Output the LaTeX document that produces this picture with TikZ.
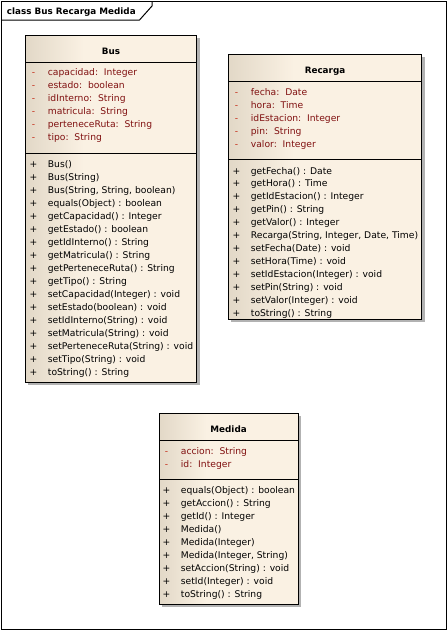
\documentclass[tikz,border=0pt]{standalone}
\usepackage{fontspec}
\setmainfont{DejaVu Sans}
\usetikzlibrary{shadows}
\definecolor{tanL}{RGB}{226,216,199}
\definecolor{tanR}{RGB}{250,241,227}
\definecolor{attrc}{RGB}{128,16,16}
\definecolor{dashc}{RGB}{196,44,24}
\definecolor{shadowc}{RGB}{178,178,178}
\pgfdeclarehorizontalshading{boxshade}{100bp}{color(0bp)=(tanL); color(25bp)=(tanL); color(42bp)=(tanR); color(100bp)=(tanR)}
\tikzset{
  frame/.style={draw=black, line width=1pt},
  classbox/.style={draw=black, line width=1pt, shading=boxshade, anchor=north west,
    inner sep=0pt, outer sep=0pt,
    drop shadow={shadow xshift=3pt, shadow yshift=-3pt, fill=shadowc, opacity=1}},
  divider/.style={draw=black, line width=1pt},
  rowfont/.style={inner sep=0pt, font=\fontsize{9.2}{11}\selectfont},
  attrrow/.style={rowfont, anchor=base west, text=attrc},
  symattrrow/.style={rowfont, anchor=base, text=dashc},
  methrow/.style={rowfont, anchor=base west, text=black},
  symmethrow/.style={rowfont, anchor=base, text=black},
  ctitle/.style={inner sep=0pt, anchor=base, font=\fontsize{8.8}{11}\selectfont\bfseries},
  frametitle/.style={inner sep=0pt, anchor=base west, font=\fontsize{8.8}{11}\selectfont\bfseries},
}
\newcommand\umlrows[7]{%
  \foreach \t [count=\i] in {#7}{%
    \node[#3, name=#1\i] at (#4,{#5+#6*(\i-1)}) {\t};
    \node[sym#3, name=#1s\i] at ({#4-14.2},{#5+#6*(\i-1)}) {#2};
  }%
}
\begin{document}
\begin{tikzpicture}[x=1pt,y=-1pt]
\useasboundingbox (0,0) rectangle (447,630);
% frame
\draw[frame] (1,1) rectangle (446,629);
\draw[frame] (1,20) -- (139.5,20) -- (152,6) -- (152,1);
\node[frametitle] (ftitle) at (6.7,14) {class Bus Recarga Medida};

% Bus
\node[classbox, minimum width=171.4pt, minimum height=347pt] (bus) at (25.3,35) {};
\draw[divider] (25.3,62.3) -- (196.7,62.3);
\draw[divider] (25.3,153.3) -- (196.7,153.3);
\node[ctitle] (bustitle) at (111,54) {Bus};
\umlrows{busa}{-}{attrrow}{47.7}{75.7}{13}{{capacidad:\ \ Integer},{estado:\ \ boolean},{idInterno:\ \ String},{matricula:\ \ String},{perteneceRuta:\ \ String},{tipo:\ \ String}}
\umlrows{busm}{+}{methrow}{47.7}{167.3}{13}{{Bus()},{Bus(String)},{Bus(String, String, boolean)},{equals(Object) : boolean},{getCapacidad() : Integer},{getEstado() : boolean},{getIdInterno() : String},{getMatricula() : String},{getPerteneceRuta() : String},{getTipo() : String},{setCapacidad(Integer) : void},{setEstado(boolean) : void},{setIdInterno(String) : void},{setMatricula(String) : void},{setPerteneceRuta(String) : void},{setTipo(String) : void},{toString() : String}}

% Recarga
\node[classbox, minimum width=193.4pt, minimum height=265.3pt] (recarga) at (228.3,54) {};
\draw[divider] (228.3,81.7) -- (421.7,81.7);
\draw[divider] (228.3,159) -- (421.7,159);
\node[ctitle] (recargatitle) at (325,73.5) {Recarga};
\umlrows{reca}{-}{attrrow}{250.7}{95.5}{13}{{fecha:\ \ Date},{hora:\ \ Time},{idEstacion:\ \ Integer},{pin:\ \ String},{valor:\ \ Integer}}
\umlrows{recm}{+}{methrow}{250.7}{174}{12.95}{{getFecha() : Date},{getHora() : Time},{getIdEstacion() : Integer},{getPin() : String},{getValor() : Integer},{Recarga(String, Integer, Date, Time)},{setFecha(Date) : void},{setHora(Time) : void},{setIdEstacion(Integer) : void},{setPin(String) : void},{setValor(Integer) : void},{toString() : String}}

% Medida
\node[classbox, minimum width=139.3pt, minimum height=191pt] (medida) at (159,413) {};
\draw[divider] (159,440) -- (298.3,440);
\draw[divider] (159,479) -- (298.3,479);
\node[ctitle] (medidatitle) at (228.6,432.5) {Medida};
\umlrows{meda}{-}{attrrow}{180.7}{454.5}{13}{{accion:\ \ String},{id:\ \ Integer}}
\umlrows{medm}{+}{methrow}{180.7}{493.5}{13}{{equals(Object) : boolean},{getAccion() : String},{getId() : Integer},{Medida()},{Medida(Integer)},{Medida(Integer, String)},{setAccion(String) : void},{setId(Integer) : void},{toString() : String}}
\end{tikzpicture}
\end{document}
